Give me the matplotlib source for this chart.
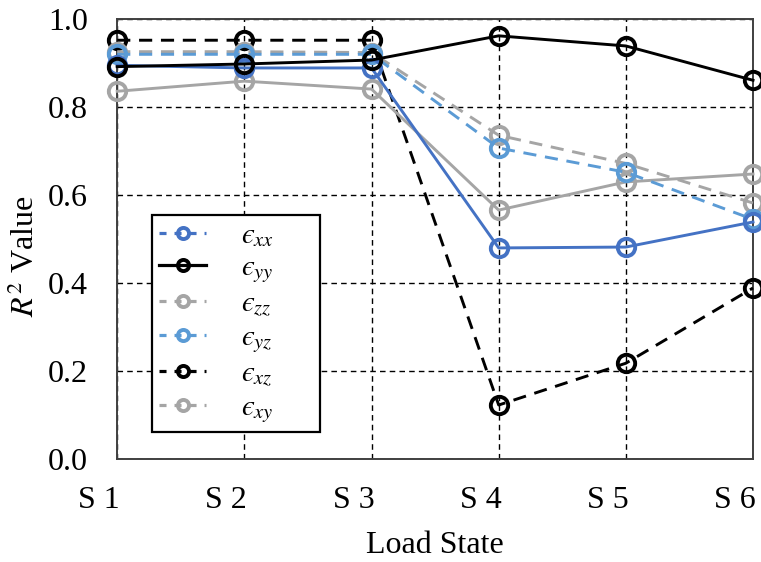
import matplotlib.pyplot as plt
import matplotlib.transforms as mtransforms
from matplotlib.lines import Line2D

# Load states and R^2 for each strain component
states = ["S 1", "S 2", "S 3", "S 4", "S 5", "S 6"]
r2_xx = [0.895, 0.889, 0.889, 0.480, 0.482, 0.539]
r2_yy = [0.892, 0.898, 0.907, 0.962, 0.939, 0.861]
r2_zz = [0.926, 0.926, 0.924, 0.736, 0.672, 0.582]
r2_yz = [0.920, 0.920, 0.920, 0.707, 0.652, 0.545]
r2_xz = [0.952, 0.952, 0.952, 0.123, 0.218, 0.389]
r2_xy = [0.836, 0.859, 0.841, 0.566, 0.630, 0.648]

BLUE = "#4472C4"
LBLUE = "#5B9BD5"
GRAY = "#A5A5A5"

plt.rcParams["font.family"] = ["Liberation Serif", "DejaVu Serif"]
plt.rcParams["mathtext.fontset"] = "stix"

fig = plt.figure(figsize=(7.61, 5.62), dpi=100)
ax = fig.add_axes([0.154, 0.183, 0.8355, 0.783])

x = list(range(len(states)))
series = [
    (r2_xz, "k", "--"),
    (r2_xy, GRAY, "-"),
    (r2_zz, GRAY, "--"),
    (r2_yz, LBLUE, "--"),
    (r2_xx, BLUE, "-"),
    (r2_yy, "k", "-"),
]
for vals, col, ls in series:
    ax.plot(x, vals, color=col, ls=ls, lw=2.1, marker="o", ms=12.5,
            mfc="none", mec=col, mew=2.8, clip_on=False, zorder=3,
            dashes=(4.5, 3) if ls == "--" else (None, None))

ax.set_xlim(0, 5)
ax.set_ylim(0, 1.0)
ax.set_xticks(x)
ax.set_xticklabels(states)
ax.set_yticks([0, 0.2, 0.4, 0.6, 0.8, 1.0])
ax.set_yticklabels(["0.0", "0.2", "0.4", "0.6", "0.8", "1.0"])
ax.tick_params(axis="both", length=0, labelsize=23)
ax.tick_params(axis="x", pad=19)
ax.tick_params(axis="y", pad=21)
# category labels sit a little left of their grid line
shift = mtransforms.ScaledTranslation(-13 / 72, 0, fig.dpi_scale_trans)
for lab in ax.get_xticklabels():
    lab.set_transform(lab.get_transform() + shift)

ax.grid(True, color="k", ls=(0, (4, 3)), lw=1.0)
for s in ax.spines.values():
    s.set_linewidth(1.4)
    s.set_color("#404040")

ax.set_xlabel("Load State", fontsize=23, labelpad=12)
ax.set_ylabel(r"$R^2$ Value", fontsize=23)
ax.yaxis.set_label_coords(-0.12, 0.46)

# legend with dashed swatches except the solid yy entry
labels = ["$\u03f5_{xx}$", "$\u03f5_{yy}$", "$\u03f5_{zz}$",
          "$\u03f5_{yz}$", "$\u03f5_{xz}$", "$\u03f5_{xy}$"]
cols = [BLUE, "k", GRAY, LBLUE, "k", GRAY]
styles = ["--", "-", "--", "--", "--", "--"]
handles = [Line2D([], [], color=c, ls=s, lw=2.3, marker="o", ms=8,
                  mfc="none", mec=c, mew=2.8,
                  dashes=(2.2, 2.5) if s == "--" else (None, None))
           for c, s in zip(cols, styles)]
leg = ax.legend(handles, labels, loc="upper left", mode="expand",
                bbox_to_anchor=(0.055, 0.0, 0.264, 0.5545), fontsize=21,
                frameon=True, fancybox=False, edgecolor="k", framealpha=1,
                handlelength=1.6, labelspacing=0.2, handletextpad=1.2,
                borderpad=0.25, borderaxespad=0)
leg.get_frame().set_linewidth(1.6)
leg.set_zorder(5)

fig.savefig("out.png", dpi=100)
